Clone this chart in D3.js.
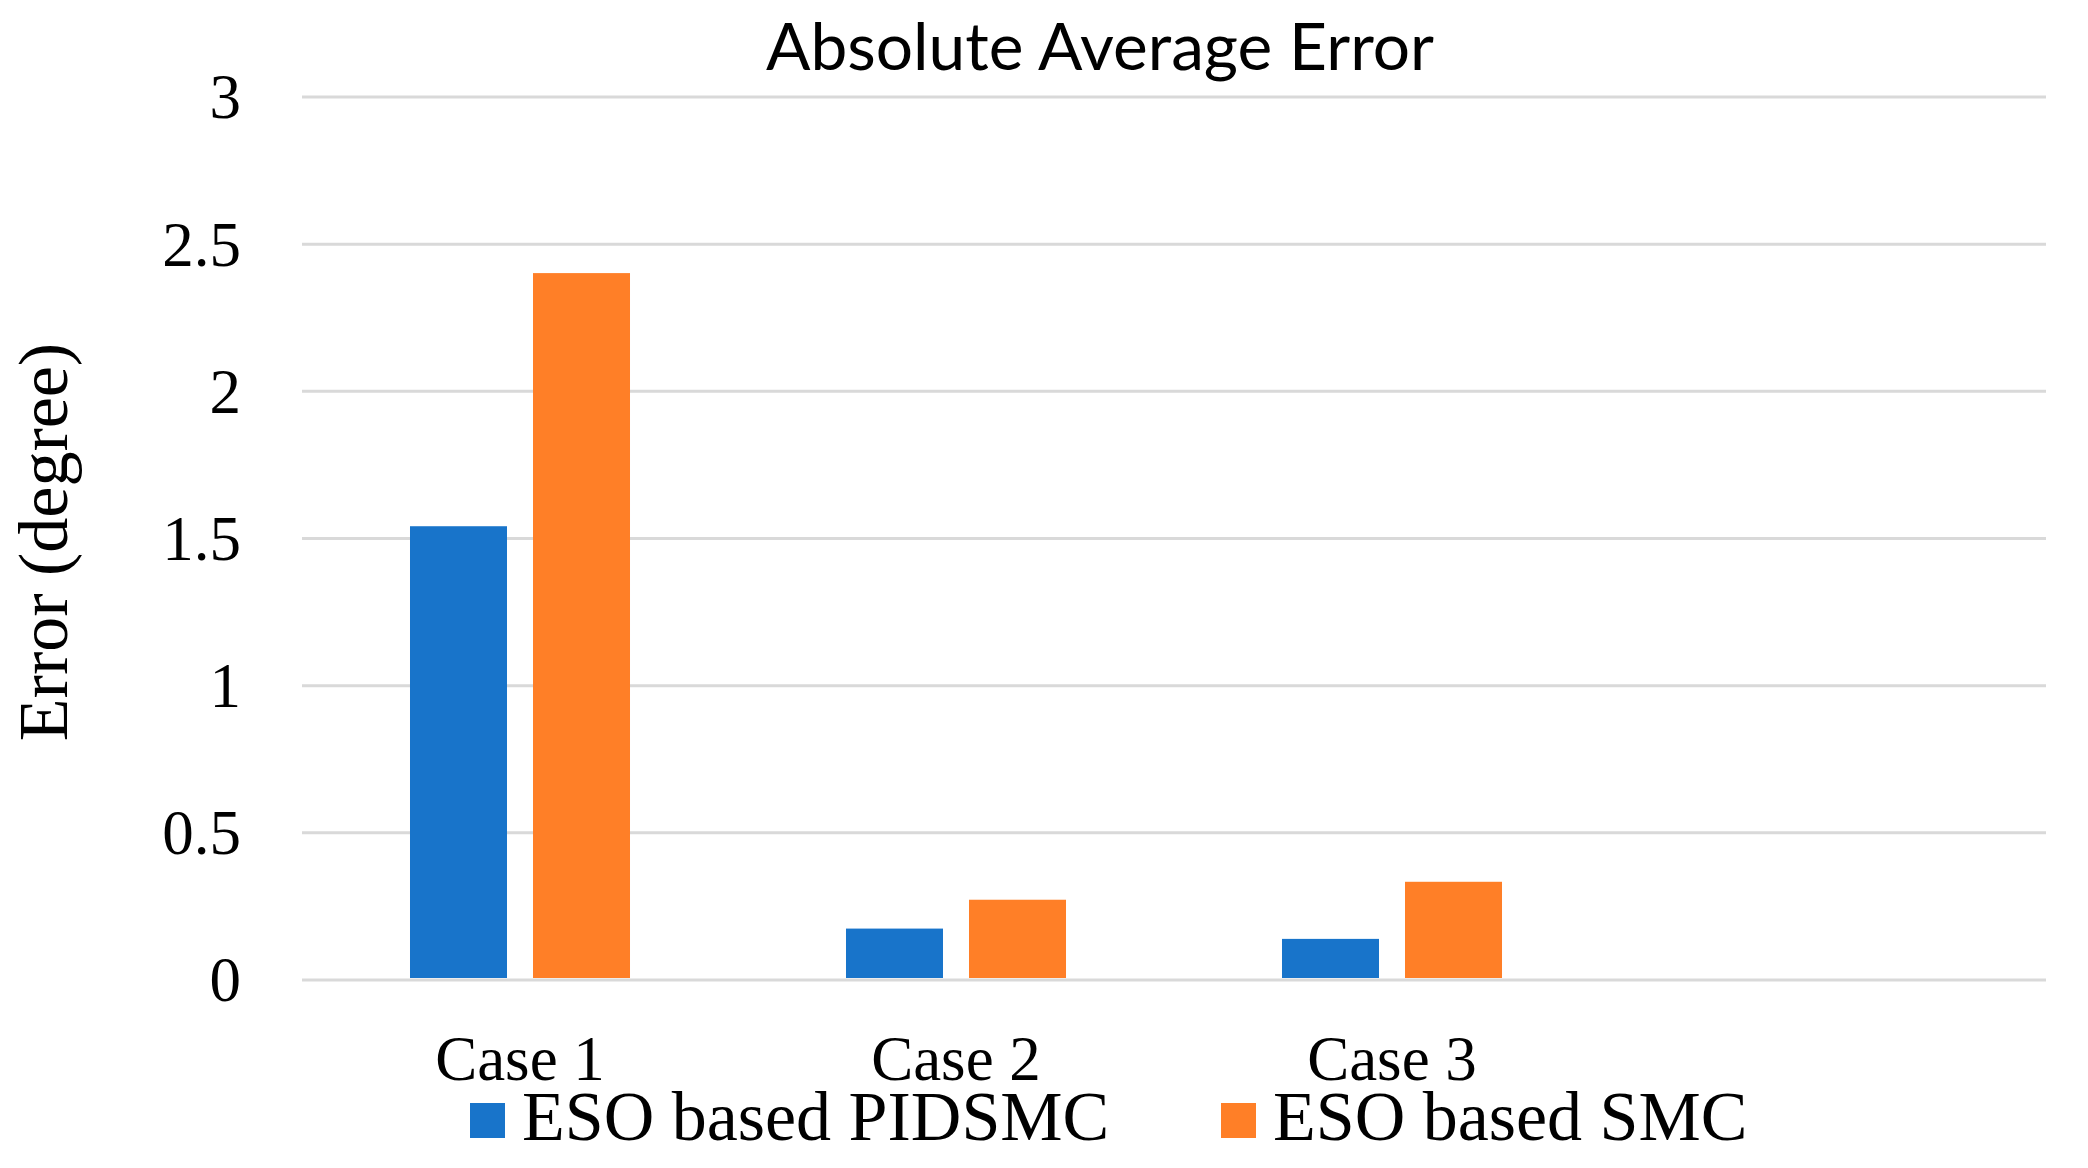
<!DOCTYPE html>
<html>
<head>
<meta charset="utf-8">
<script src="https://cdn.jsdelivr.net/npm/d3@7"></script>
<style>
  html, body { margin: 0; padding: 0; background: #fff; }
  svg { display: block; }
</style>
</head>
<body>
<svg id="chart" width="2088" height="1168"></svg>
<script>
// ---- data ----
const categories = ["Case 1", "Case 2", "Case 3", ""];
const seriesNames = ["ESO based PIDSMC", "ESO based SMC"];
const pidsmcValues = [1.54, 0.173, 0.138, null];
const smcValues = [2.40, 0.271, 0.332, null];
const yTickValues = [0, 0.5, 1, 1.5, 2, 2.5, 3];
const yTickLabels = ["0", "0.5", "1", "1.5", "2", "2.5", "3"];
const seriesColors = ["#1874CA", "#FF7F27"];
const chartTitle = "Absolute Average Error";
const yAxisTitle = "Error (degree)";

// ---- layout ----
const W = 2088, H = 1168;
const plot = { left: 302, right: 2046, top: 96.5, bottom: 979.5 };
const svg = d3.select("#chart");
const serif = "'Liberation Serif', 'Times New Roman', serif";

const x = d3.scaleBand().domain(categories).range([plot.left, plot.right])
  .paddingInner(0.4954).paddingOuter(0.2477);
const xInner = d3.scaleBand().domain(seriesNames).range([0, x.bandwidth()])
  .paddingInner(0.2114).paddingOuter(0);
const y = d3.scaleLinear().domain([0, 3]).range([plot.bottom, plot.top]);

// gridlines + y labels
const yAxis = d3.axisLeft(y).tickValues(yTickValues)
  .tickFormat((d, i) => yTickLabels[i])
  .tickSize(-(plot.right - plot.left)).tickPadding(61);
const gy = svg.append("g").attr("transform", `translate(${plot.left},0)`).call(yAxis);
gy.select(".domain").remove();
gy.selectAll(".tick line").attr("stroke", "#d9d9d9").attr("stroke-width", 3);
gy.selectAll(".tick text").attr("font-family", serif).attr("font-size", 63)
  .attr("fill", "#000").attr("dy", "0.34em");

// bars
const rows = categories.map((c, i) => ({ cat: c, vals: [pidsmcValues[i], smcValues[i]] }));
const groups = svg.append("g").selectAll("g").data(rows).join("g")
  .attr("transform", d => `translate(${x(d.cat)},0)`);
groups.selectAll("rect")
  .data(d => d.vals.map((v, j) => ({ v, name: seriesNames[j], color: seriesColors[j] })).filter(e => e.v != null))
  .join("rect")
  .attr("x", d => xInner(d.name))
  .attr("width", xInner.bandwidth())
  .attr("y", d => y(d.v))
  .attr("height", d => y(0) - 1.5 - y(d.v))
  .attr("fill", d => d.color);

// x axis labels
const xAxis = d3.axisBottom(x).tickSize(0).tickPadding(0);
const gx = svg.append("g").attr("transform", `translate(0,${plot.bottom})`).call(xAxis);
gx.select(".domain").remove();
gx.selectAll(".tick text").attr("font-family", serif).attr("font-size", 63)
  .attr("fill", "#000").attr("y", 100.5).attr("dy", 0);

// title
svg.append("text").attr("x", 1100).attr("y", 70)
  .attr("text-anchor", "middle")
  .attr("font-family", "Lato, 'Open Sans', sans-serif")
  .attr("font-size", 66)
  .attr("textLength", 668).attr("lengthAdjust", "spacingAndGlyphs")
  .attr("fill", "#000").text(chartTitle);

// y axis title
svg.append("text")
  .attr("transform", `translate(67,542) rotate(-90)`)
  .attr("text-anchor", "middle")
  .attr("font-family", serif).attr("font-size", 70)
  .attr("fill", "#000").text(yAxisTitle);

// legend
const legendX = [470, 1221];
const leg = svg.append("g").selectAll("g").data(seriesNames).join("g")
  .attr("transform", (d, i) => `translate(${legendX[i]},0)`);
leg.append("rect").attr("x", 0).attr("y", 1103).attr("width", 35).attr("height", 35)
  .attr("fill", (d, i) => seriesColors[i]);
leg.append("text").attr("x", 52).attr("y", 1140)
  .attr("font-family", serif).attr("font-size", 70).attr("fill", "#000")
  .text(d => d);
</script>
</body>
</html>
